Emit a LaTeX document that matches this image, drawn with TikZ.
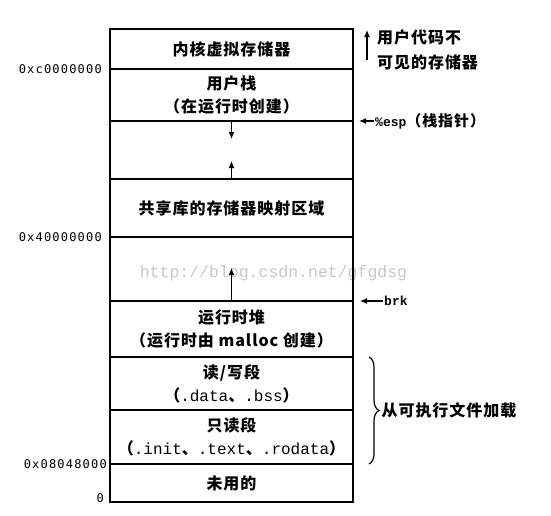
\documentclass[tikz,border=0pt]{standalone}
\usepackage{fontspec}
\usetikzlibrary{positioning}
\usetikzlibrary{arrows.meta}
\usetikzlibrary{decorations.pathreplacing}
\newfontfamily\cjk{Noto Sans CJK SC}[LetterSpace=6]
\newfontfamily\mono{Liberation Mono}
\newfontfamily\addrfont{DejaVu Sans Mono}[LetterSpace=10]

\begin{document}
\begin{tikzpicture}[x=1pt,y=-1pt,>={Latex[length=7pt,width=6pt]},
		region/.style={draw,line width=1.5pt,minimum width=243pt,minimum height=#1,inner sep=0pt,outer sep=0pt,align=center,font=\cjk\bfseries\fontsize{16}{23}\selectfont},
		addr/.style={anchor=east,inner sep=0pt,font=\addrfont\fontsize{12}{14}\selectfont},
		note/.style={inner sep=1pt,align=left,font=\cjk\bfseries\fontsize{16}{25}\selectfont},
		pointer/.style={->,line width=1.2pt},
		brace/.style={decorate,decoration={brace,amplitude=10pt},line width=1.2pt}]
		\useasboundingbox (0,0) rectangle (551,515);
		\node (wm) [text=black!22,font=\mono\fontsize{16.5}{18}\selectfont] at (273.5,273) {http://blog.csdn.net/gfgdsg};
		\node (kernel) [region=40pt,anchor=north] at (231.5,29) {内核虚拟存储器};
		\node (stack) [region=52pt,below=0pt of kernel] {用户栈\\（在运行时创建）};
		\node (gapup) [region=58pt,below=0pt of stack] {};
		\node (shlib) [region=58pt,below=0pt of gapup] {共享库的存储器映射区域};
		\node (gapdown) [region=64pt,below=0pt of shlib] {};
		\node (heap) [region=56pt,below=0pt of gapdown] {运行时堆\\（运行时由 malloc 创建）};
		\node (rw) [region=53pt,below=0pt of heap] {读/写段\\（{\mono\mdseries .data}、{\mono\mdseries .bss}）};
		\node (ro) [region=54pt,below=0pt of rw] {只读段\\（{\mono\mdseries .init}、{\mono\mdseries .text}、{\mono\mdseries .rodata}）};
		\node (unused) [region=38pt,below=0pt of ro] {未用的};
		\coordinate (sp) at ([yshift=-18pt]gapup.north);
		\coordinate (mm) at ([yshift=18pt]gapup.south);
		\coordinate (hp) at ([yshift=33pt]gapdown.south);
		\draw (gapup.north) edge[pointer] (sp);
		\draw (gapup.south) edge[pointer] (mm);
		\draw (gapdown.south) edge[pointer] (hp);
		\node (akernel) [addr] at ([xshift=-8pt]kernel.south west) {0xc0000000};
		\node (ashlib) [addr] at ([xshift=-8pt]shlib.south west) {0x40000000};
		\node (atext) [addr] at ([xshift=-3pt]ro.south west) {0x08048000};
		\node (azero) [addr] at ([xshift=-6pt,yshift=4pt]unused.south west) {0};
		\coordinate (hidebot) at ([xshift=14pt,yshift=-31pt]kernel.north east);
		\coordinate (hidetop) at ([xshift=14pt,yshift=-1pt]kernel.north east);
		\draw (hidebot) edge[pointer] (hidetop);
		\node (hide) [note,anchor=west] at (376,50) {用户代码不\\可见的存储器};
		\coordinate (esptip) at ([xshift=6pt]stack.south east);
		\node (esp) [note,anchor=west,font=\cjk\bfseries\fontsize{15}{17}\selectfont] at (374,121) {{\mono\fontsize{13}{15}\selectfont\%esp}（栈指针）};
		\draw (esp.west) edge[pointer] (esptip);
		\coordinate (brktip) at ([xshift=7pt]heap.north east);
		\node (brk) [note,anchor=west,font=\mono\bfseries\fontsize{13}{15}\selectfont] at (383,301) {brk};
		\draw (brk.west) edge[pointer] (brktip);
		\draw[brace] ([xshift=16pt]rw.north east) -- ([xshift=16pt]ro.south east) node[midway,right=11pt,note] (load) {从可执行文件加载};
	\end{tikzpicture}
\end{document}
